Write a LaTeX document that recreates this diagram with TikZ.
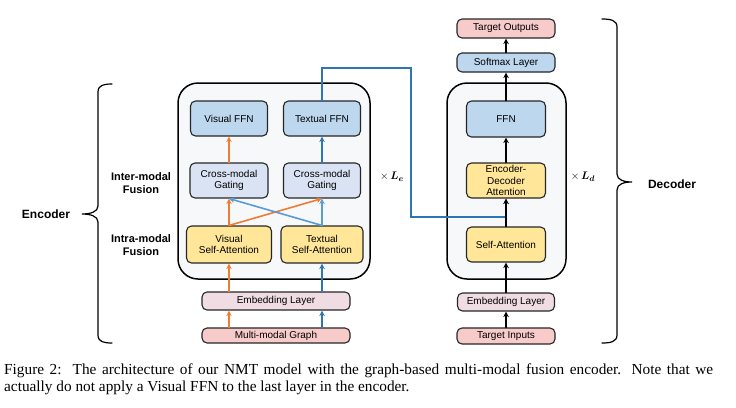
\documentclass[tikz,border=0pt]{standalone}
\usepackage{fontspec}
\setmainfont{Liberation Serif}
\setsansfont{Liberation Sans}
\usepackage{amsmath}
\usetikzlibrary{arrows.meta}
\definecolor{ffnblue}{HTML}{BDD7EE}
\definecolor{gateblue}{HTML}{DAE3F3}
\definecolor{attyellow}{HTML}{FFE699}
\definecolor{embpink}{HTML}{F0DDE4}
\definecolor{iored}{HTML}{F8CBCB}
\definecolor{arrorange}{HTML}{ED7D31}
\definecolor{arrblue}{HTML}{2E75B6}
\definecolor{crossblue}{HTML}{5B9BD5}
\definecolor{stackfill}{HTML}{F7F8FA}
\tikzset{
  blk/.style={draw=black!85, line width=1.1pt, rounded corners=5pt, inner sep=0pt, align=center,
    font=\sffamily\fontsize{10}{11.5}\selectfont},
  sz/.style 2 args={minimum width=#1pt, minimum height=#2pt},
  stack/.style={draw=black, line width=1.5pt, rounded corners=20pt, fill=stackfill},
  lbl/.style={font=\sffamily\bfseries\fontsize{11}{13}\selectfont, align=center},
  captxt/.style={anchor=base west, inner sep=0pt, font=\fontsize{15.3}{18}\selectfont},
}
\begin{document}
\begin{tikzpicture}[x=1pt,y=-1pt,>={Stealth[length=5.5pt,width=5.5pt]},line cap=round]
	\useasboundingbox (0,0) rectangle (736,407);
	% the two stacks
	\draw[stack] (178,83) rectangle (370,279);
	\draw[stack] (447,83) rectangle (566,279);
	% encoder
	\node[blk,fill=ffnblue,sz={77}{35}] (vffn) at (229,118.5) {Visual FFN};
	\node[blk,fill=ffnblue,sz={77}{35}] (tffn) at (322,118.5) {Textual FFN};
	\node[blk,fill=gateblue,sz={78}{35}] (vgate) at (229,180.5) {Cross-modal\\Gating};
	\node[blk,fill=gateblue,sz={77}{35}] (tgate) at (322,180.5) {Cross-modal\\Gating};
	\node[blk,fill=attyellow,sz={85}{37}] (vsa) at (229,244.5) {Visual\\Self-Attention};
	\node[blk,fill=attyellow,sz={82}{37}] (tsa) at (322,244.5) {Textual\\Self-Attention};
	\node[blk,fill=embpink,sz={148}{18}] (emb) at (276,301) {Embedding Layer};
	\node[blk,fill=iored,sz={148}{15}] (graph) at (276,335.5) {Multi-modal Graph};
	% decoder
	\node[blk,fill=iored,sz={98}{19}] (out) at (506,28.5) {Target Outputs};
	\node[blk,fill=ffnblue,sz={98}{19}] (softmax) at (506,62.5) {Softmax Layer};
	\node[blk,fill=ffnblue,sz={79}{36}] (ffn) at (506,119) {FFN};
	\node[blk,fill=attyellow,sz={79}{35}] (encdec) at (506,180.5) {Encoder-\\Decoder\\Attention};
	\node[blk,fill=attyellow,sz={79}{35}] (sa) at (506,244.5) {Self-Attention};
	\node[blk,fill=embpink,sz={97}{18}] (demb) at (506,302) {Embedding Layer};
	\node[blk,fill=iored,sz={98}{16}] (inp) at (506,336) {Target Inputs};
	% encoder arrows
	\begin{scope}[line width=1.6pt]
		\draw[->,arrorange] (graph.north -| vsa) -- (emb.south -| vsa);
		\draw[->,arrorange] (emb.north -| vsa) -- (vsa.south);
		\draw[->,arrblue] (graph.north -| tsa) -- (emb.south -| tsa);
		\draw[->,arrblue] (emb.north -| tsa) -- (tsa.south);
		\draw[->,arrorange] (vsa.north) -- (vgate.south);
		\draw[->,arrorange] (vsa.north) -- (tgate.south);
		\draw[->,crossblue] (tsa.north) -- (vgate.south);
		\draw[->,crossblue] (tsa.north) -- (tgate.south);
		\draw[->,arrorange] (vgate.north) -- (vffn.south);
		\draw[->,arrblue] (tgate.north) -- (tffn.south);
		% encoder output to the decoder
		\coordinate (bend) at (411,68);
		\coordinate (join) at (411,217);
		\draw[->,arrblue] (tffn.north) |- (bend) -- (join) -| (encdec.south);
	\end{scope}
	% decoder arrows
	\foreach \a/\b in {inp/demb,demb/sa,sa/encdec,encdec/ffn,ffn/softmax,softmax/out}
		\draw[->,line width=1.3pt] (\a.north) -- (\b.south);
	\node[font=\fontsize{11}{13}\selectfont] (le) at (392,177) {$\times\,\boldsymbol{L_e}$};
	\node[font=\fontsize{11}{13}\selectfont] (ld) at (583,177) {$\times\,\boldsymbol{L_d}$};
	% braces and side labels
	\draw[line width=1.2pt] (112,84) .. controls (104,84) and (98,85) .. (98,92) -- (98,206)
		.. controls (98,212) and (90,214) .. (82,214) .. controls (90,214) and (98,216) .. (98,222)
		-- (98,335) .. controls (98,342) and (104,343) .. (112,343);
	\draw[line width=1.2pt] (602,19) .. controls (610,19) and (617,20) .. (617,27) -- (617,174)
		.. controls (617,180) and (624,182) .. (632,182) .. controls (624,182) and (617,184) .. (617,190)
		-- (617,335) .. controls (617,342) and (610,343) .. (602,343);
	\node[lbl] (inter) at (141,183) {Inter-modal\\Fusion};
	\node[lbl] (intra) at (141,245) {Intra-modal\\Fusion};
	\node[lbl,font=\sffamily\bfseries\fontsize{12}{14}\selectfont] (enc) at (46,214) {Encoder};
	\node[lbl,font=\sffamily\bfseries\fontsize{12}{14}\selectfont] (dec) at (672,184) {Decoder};
	% caption
	\node[captxt] (cap1) at (4,374) {\makebox[709pt][s]{Figure 2:\ \ The architecture of our NMT model with the graph-based multi-modal fusion encoder. Note that we}};
	\node[captxt] (cap2) at (4,391) {actually do not apply a Visual FFN to the last layer in the encoder.};
\end{tikzpicture}
\end{document}
